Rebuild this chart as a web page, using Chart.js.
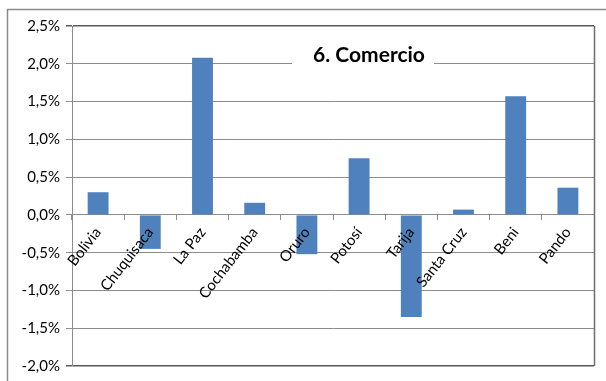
<!DOCTYPE html>
<html>
<head>
<meta charset="utf-8">
<script src="https://cdn.jsdelivr.net/npm/chart.js@4/dist/chart.umd.min.js"></script>
<style>
  html, body { margin: 0; padding: 0; background: #fff; }
  #wrap { width: 606px; height: 381px; position: relative; }
</style>
</head>
<body>
<div id="wrap"><canvas id="chart"></canvas></div>
<script>
// @@@@@@@@@@@@@@@@@@@@@@@@@@@@@@@@@@@@@@@@@@@@@@
// @@@@@@@@            DATA              @@@@@@@@
// @@@@@@@@@@@@@@@@@@@@@@@@@@@@@@@@@@@@@@@@@@@@@@
const regions = ['Bolivia', 'Chuquisaca', 'La Paz', 'Cochabamba', 'Oruro',
  'Potosí', 'Tarija', 'Santa Cruz', 'Beni', 'Pando'];
const comercio = [0.30, -0.45, 2.08, 0.16, -0.52, 0.75, -1.35, 0.07, 1.57, 0.36];
const chartTitle = '6. Comercio';
const yMin = -2.0, yMax = 2.5, yStep = 0.5;

const font = "Lato, 'Open Sans', sans-serif";

// @@@@@@@@@@@@@@@@@@@@@@@@@@@@@@@@@@@@@@@@@@@@@@
// @@@@@@@@     FRAME + TITLE PLUGIN     @@@@@@@@
// @@@@@@@@@@@@@@@@@@@@@@@@@@@@@@@@@@@@@@@@@@@@@@
const framePlugin = {
  id: 'frame',
  beforeDraw(chart) {
    const ctx = chart.ctx;
    ctx.save();
    ctx.strokeStyle = '#8a8a8a';
    ctx.lineWidth = 1.5;
    ctx.beginPath();
    ctx.moveTo(7.5, 381);
    ctx.lineTo(7.5, 9.5);
    ctx.lineTo(606, 9.5);
    ctx.stroke();
    ctx.restore();
  },
  afterDraw(chart) {
    const ctx = chart.ctx;
    const a = chart.chartArea;
    ctx.save();
    // right edge of plot area
    ctx.strokeStyle = '#6e6e6e';
    ctx.lineWidth = 1.5;
    ctx.beginPath();
    ctx.moveTo(a.right + 0.5, a.top);
    ctx.lineTo(a.right + 0.5, a.bottom);
    ctx.stroke();
    // title box inside plot area
    ctx.fillStyle = '#fff';
    ctx.fillRect(292, 42, 142, 26);
    ctx.fillStyle = '#000';
    ctx.font = "bold 21px " + font;
    ctx.textAlign = 'center';
    ctx.textBaseline = 'middle';
    ctx.fillText(chartTitle, 369, 55);
    ctx.restore();
  }
};

// @@@@@@@@@@@@@@@@@@@@@@@@@@@@@@@@@@@@@@@@@@@@@@
// @@@@@@@@            CHART             @@@@@@@@
// @@@@@@@@@@@@@@@@@@@@@@@@@@@@@@@@@@@@@@@@@@@@@@
const chart = document.getElementById('chart').getContext('2d');

new Chart(chart, {
  type: 'bar',
  data: {
    labels: regions,
    datasets: [
      {
        label: chartTitle,
        data: comercio,
        backgroundColor: '#4f81bd',
        barPercentage: 0.4,
        categoryPercentage: 1,
      },
    ],
  },
  options: {
    responsive: true,
    maintainAspectRatio: false,
    animation: false,
    layout: { padding: { left: 0, top: 26, right: 12, bottom: 13 } },
    plugins: {
      legend: { display: false },
      tooltip: { enabled: false },
    },
    scales: {
      x: {
        position: { y: 0 },
        offset: true,
        grid: {
          offset: true,
          drawOnChartArea: false,
          drawTicks: true,
          tickLength: 5,
          color: '#8c8c8c',
        },
        border: { display: true, color: '#8c8c8c', width: 1 },
        ticks: {
          z: 1,
          autoSkip: false,
          minRotation: 52,
          maxRotation: 52,
          padding: 4,
          color: '#000',
          font: { family: font, size: 15 },
        },
      },
      y: {
        min: yMin,
        max: yMax,
        afterFit(scale) { scale.width = 72; },
        grid: {
          color: (c) => (c.tick && (c.tick.value === yMax || c.tick.value === yMin)) ? '#5a5a5a' : '#8c8c8c',
          lineWidth: (c) => (c.tick && (c.tick.value === yMax || c.tick.value === yMin)) ? 1.5 : 1,
          tickLength: 6,
        },
        border: { display: true, color: '#8c8c8c' },
        ticks: {
          stepSize: yStep,
          padding: 6,
          color: '#000',
          font: { family: font, size: 15 },
          callback: (v) => v.toFixed(1).replace('.', ',') + '%',
        },
      },
    },
  },
  plugins: [framePlugin],
});
</script>
</body>
</html>
